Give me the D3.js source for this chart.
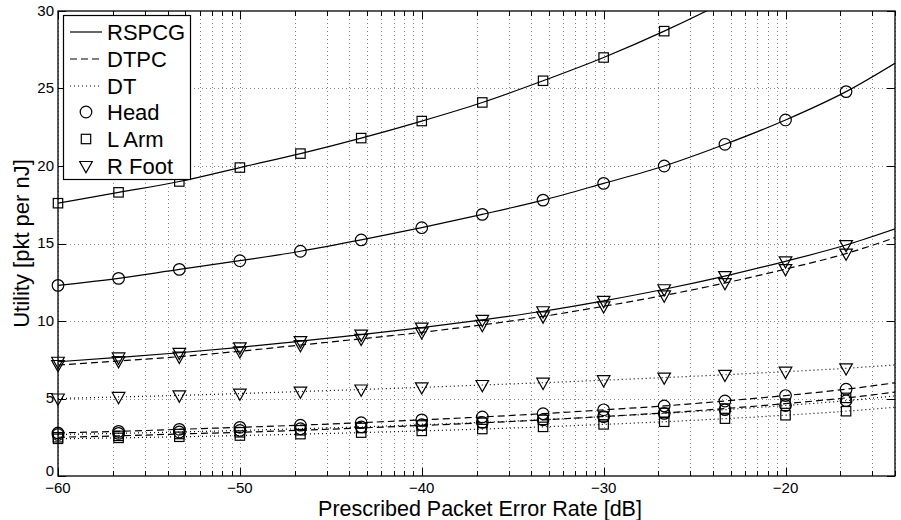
<!DOCTYPE html>
<html>
<head>
<meta charset="utf-8">
<script src="https://cdn.jsdelivr.net/npm/d3@7"></script>
<style>
  body { margin: 0; background: #fff; }
  svg text { font-family: "Liberation Sans", Arial, sans-serif; fill: #000; }
</style>
</head>
<body>
<div class="chart"></div>
<script>
// prescribed packet error rate [dB] at which the curves were sampled
let per = [-60, -56.67, -53.33, -50, -46.67, -43.33, -40, -36.67, -33.33, -30, -26.67, -23.33, -20, -16.67, -13.33];

// utility [pkt per nJ]
let headRSPCG = [12.3, 12.75, 13.33, 13.89, 14.5, 15.23, 16.02, 16.88, 17.8, 18.88, 20.0, 21.4, 22.97, 24.8, 27.1];
let armRSPCG  = [17.6, 18.3, 19.0, 19.9, 20.8, 21.8, 22.9, 24.1, 25.5, 27.0, 28.7, 30.6, 32.7, 35.0, 37.6];
let footRSPCG = [7.37, 7.65, 7.95, 8.3, 8.7, 9.12, 9.57, 10.07, 10.63, 11.3, 12.05, 12.9, 13.85, 14.9, 16.2];
let footDTPC  = [7.16, 7.42, 7.7, 8.05, 8.45, 8.85, 9.27, 9.75, 10.3, 10.95, 11.65, 12.45, 13.35, 14.35, 15.65];
let footDT    = [5.0, 5.1, 5.2, 5.32, 5.45, 5.58, 5.72, 5.87, 6.02, 6.18, 6.35, 6.53, 6.73, 6.95, 7.22];
let headDTPC  = [2.78, 2.88, 3.01, 3.14, 3.28, 3.44, 3.62, 3.81, 4.02, 4.27, 4.52, 4.84, 5.19, 5.6, 6.12];
let armDTPC   = [2.5, 2.59, 2.71, 2.82, 2.95, 3.1, 3.26, 3.43, 3.62, 3.84, 4.07, 4.35, 4.67, 5.04, 5.51];
let headDT    = [2.68, 2.75, 2.84, 2.94, 3.05, 3.17, 3.31, 3.46, 3.63, 3.83, 4.04, 4.28, 4.55, 4.86, 5.25];
let armDT     = [2.4, 2.46, 2.53, 2.61, 2.7, 2.8, 2.91, 3.03, 3.17, 3.33, 3.5, 3.7, 3.92, 4.18, 4.5];

let xTicks = [-60, -50, -40, -30, -20];
let yTicks = [0, 5, 10, 15, 20, 25, 30];
let xMax = -13.98;

let methods = ['RSPCG', 'DTPC', 'DT'];
let bodies = ['Head', 'L Arm', 'R Foot'];

let series = [
    {values: armRSPCG,  method: 'RSPCG', body: 'L Arm'},
    {values: headRSPCG, method: 'RSPCG', body: 'Head'},
    {values: footRSPCG, method: 'RSPCG', body: 'R Foot'},
    {values: footDTPC,  method: 'DTPC',  body: 'R Foot'},
    {values: footDT,    method: 'DT',    body: 'R Foot'},
    {values: headDTPC,  method: 'DTPC',  body: 'Head'},
    {values: armDTPC,   method: 'DTPC',  body: 'L Arm'},
    {values: headDT,    method: 'DT',    body: 'Head'},
    {values: armDT,     method: 'DT',    body: 'L Arm'}
];

let dashes = {'RSPCG': null, 'DTPC': '7,4', 'DT': '1,3'};

let width = 901, height = 520;
let margin = {left: 58, right: 6, top: 11, bottom: 44};

let svg = d3.select('.chart').append('svg').attr('width', width).attr('height', height);

let x = d3.scaleLinear().domain([-60, xMax]).range([margin.left, width - margin.right]);
let y = d3.scaleLinear().domain([0, 30]).range([height - margin.bottom, margin.top]);

// minor ticks follow a log decade inside each 10 dB step
let minor = [];
xTicks.forEach(t => {
    for(let k = 2; k <= 9; k++){
        let v = t + 10 * Math.log10(k);
        if(v <= xMax + 0.01) minor.push(v);
    }
});
let xAll = xTicks.concat(minor);

let x0 = margin.left, x1 = width - margin.right;
let y0 = height - margin.bottom, y1 = margin.top;

//grid
let grid = svg.append('g').attr('stroke', '#8a8a8a').attr('stroke-width', 1).attr('stroke-dasharray', '1,3');
grid.selectAll('.vg').data(xAll).enter().append('line')
    .attr('x1', d => Math.round(x(d)) + 0.5).attr('x2', d => Math.round(x(d)) + 0.5)
    .attr('y1', y1).attr('y2', y0);
grid.selectAll('.hg').data(yTicks.slice(1, -1)).enter().append('line')
    .attr('x1', x0).attr('x2', x1)
    .attr('y1', d => Math.round(y(d)) + 0.5).attr('y2', d => Math.round(y(d)) + 0.5);

//ticks
let ticks = svg.append('g').attr('stroke', '#000').attr('stroke-width', 1);
xTicks.forEach(t => {
    let px = Math.round(x(t)) + 0.5;
    ticks.append('line').attr('x1', px).attr('x2', px).attr('y1', y0).attr('y2', y0 - 8);
    ticks.append('line').attr('x1', px).attr('x2', px).attr('y1', y1).attr('y2', y1 + 8);
});
minor.forEach(t => {
    let px = Math.round(x(t)) + 0.5;
    ticks.append('line').attr('x1', px).attr('x2', px).attr('y1', y0).attr('y2', y0 - 5);
    ticks.append('line').attr('x1', px).attr('x2', px).attr('y1', y1).attr('y2', y1 + 5);
});
yTicks.forEach(t => {
    let py = Math.round(y(t)) + 0.5;
    ticks.append('line').attr('x1', x0).attr('x2', x0 + 8).attr('y1', py).attr('y2', py);
    ticks.append('line').attr('x1', x1).attr('x2', x1 - 8).attr('y1', py).attr('y2', py);
});

//lines
svg.append('clipPath').attr('id', 'plotclip').append('rect')
    .attr('x', x0).attr('y', y1).attr('width', x1 - x0).attr('height', y0 - y1);

let line = d3.line().x((d, i) => x(per[i])).y(d => y(d)).curve(d3.curveMonotoneX);

let plot = svg.append('g');
plot.selectAll('.curve').data(series).enter().append('path')
    .attr('clip-path', 'url(#plotclip)')
    .attr('d', d => line(d.values))
    .attr('fill', 'none').attr('stroke', '#000').attr('stroke-width', 1.2)
    .attr('stroke-dasharray', d => dashes[d.method]);

//markers
let marker = function(g, body, cx, cy){
    if(body == 'Head'){
        g.append('circle').attr('cx', cx).attr('cy', cy).attr('r', 5.8);
    }else if(body == 'L Arm'){
        g.append('rect').attr('x', cx - 4.7).attr('y', cy - 4.7).attr('width', 9.4).attr('height', 9.4);
    }else{
        g.append('path').attr('d', 'M' + (cx - 6.3) + ',' + (cy - 4.5) + 'L' + (cx + 6.3) + ',' + (cy - 4.5) +
            'L' + cx + ',' + (cy + 6.8) + 'Z');
    }
};

let marks = svg.append('g').attr('fill', 'none').attr('stroke', '#000').attr('stroke-width', 1.2);
series.forEach(s => {
    s.values.forEach((v, i) => {
        if(per[i] <= xMax && v <= 30){
            marker(marks, s.body, x(per[i]), y(v));
        }
    });
});

//box
svg.append('rect').attr('x', x0).attr('y', y1).attr('width', x1 - x0).attr('height', y0 - y1)
    .attr('fill', 'none').attr('stroke', '#000').attr('stroke-width', 1.3);

//tick labels
svg.selectAll('.xl').data(xTicks).enter().append('text')
    .attr('x', d => x(d)).attr('y', y0 + 17)
    .attr('text-anchor', 'middle').style('font-size', '15px')
    .text(d => d3.format('d')(d).replace('-', '\u2212'));
svg.selectAll('.yl').data(yTicks).enter().append('text')
    .attr('x', x0 - 4).attr('y', d => y(d) + (d == 0 ? 0 : 4.5))
    .attr('text-anchor', 'end').style('font-size', '15px')
    .text(d => d);

//axis labels
svg.append('text').attr('x', 480).attr('y', 516)
    .attr('text-anchor', 'middle').style('font-size', '21.5px')
    .text('Prescribed Packet Error Rate [dB]');
svg.append('text').attr('transform', 'translate(29,' + ((y0 + y1) / 2) + ') rotate(-90)')
    .attr('text-anchor', 'middle').style('font-size', '22px')
    .text('Utility [pkt per nJ]');

//legend
let legend = svg.append('g');
legend.append('rect').attr('x', 63.5).attr('y', 15.5).attr('width', 127).attr('height', 164)
    .attr('fill', '#fff').attr('stroke', '#000').attr('stroke-width', 1.2);
let rowY = [32, 59, 86, 112, 139, 166];
methods.forEach((m, i) => {
    legend.append('line').attr('x1', 70).attr('x2', 102).attr('y1', rowY[i]).attr('y2', rowY[i])
        .attr('stroke', '#000').attr('stroke-width', 1.2).attr('stroke-dasharray', dashes[m]);
    legend.append('text').attr('x', 107).attr('y', rowY[i] + 8).style('font-size', '22px').text(m);
});
let lm = legend.append('g').attr('fill', 'none').attr('stroke', '#000').attr('stroke-width', 1.2);
bodies.forEach((b, i) => {
    marker(lm, b, 86, rowY[i + 3]);
    legend.append('text').attr('x', 107).attr('y', rowY[i + 3] + 8).style('font-size', '22px').text(b);
});
</script>
</body>
</html>
